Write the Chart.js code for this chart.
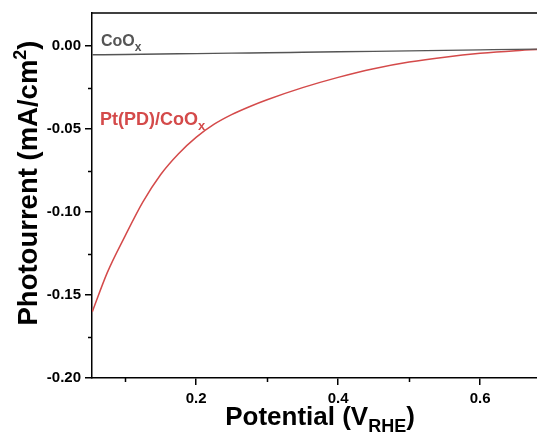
<!DOCTYPE html>
<html>
<head>
<meta charset="utf-8">
<script src="https://cdn.jsdelivr.net/npm/chart.js@4"></script>
<style>
  html, body { margin: 0; padding: 0; background: #fff; }
  #wrap { width: 537px; height: 437px; }
</style>
</head>
<body>
<div id="wrap"><canvas id="chart" width="537" height="437"></canvas></div>
<script>
// values
const redPotential = [0.054, 0.075, 0.100, 0.125, 0.150, 0.175, 0.200, 0.225, 0.250, 0.275,
  0.300, 0.350, 0.400, 0.450, 0.500, 0.550, 0.600, 0.650, 0.700];
const redCurrent = [-0.1600, -0.1365, -0.1145, -0.0940, -0.0775, -0.0650, -0.0550, -0.0472, -0.0413, -0.0365,
  -0.0323, -0.0250, -0.0188, -0.0136, -0.0096, -0.0066, -0.0043, -0.0027, -0.0016];

const grayPotential = [0.054, 0.100, 0.150, 0.200, 0.250, 0.300, 0.350, 0.400, 0.450, 0.500,
  0.550, 0.600, 0.650, 0.700];
const grayCurrent = [-0.0052, -0.0050, -0.0047, -0.0045, -0.0042, -0.0040, -0.0037, -0.0034,
  -0.0031, -0.0028, -0.0025, -0.0022, -0.0019, -0.0017];

const xMajorTicks = [0.2, 0.4, 0.6];
const xMinorTicks = [0.1, 0.3, 0.5];
const yMajorTicks = [0, -0.05, -0.10, -0.15, -0.20];
const yMinorTicks = [-0.025, -0.075, -0.125, -0.175];

const FONT = "'Liberation Sans', Arial, sans-serif";
const RED = "#d44a4a";
const GRAY = "#555555";

// draws a run of text pieces, each with its own size and baseline shift
function drawPieces(ctx, pieces, x, y, align) {
  let total = 0;
  pieces.forEach(p => {
    ctx.font = "bold " + p.size + "px " + FONT;
    p.w = ctx.measureText(p.text).width;
    total += p.w;
  });
  let cx = align === "center" ? x - total / 2 : x;
  pieces.forEach(p => {
    ctx.font = "bold " + p.size + "px " + FONT;
    ctx.fillText(p.text, cx, y + (p.dy || 0));
    cx += p.w;
  });
}

const decorations = {
  id: "decorations",
  afterDraw(chart) {
    const { ctx, chartArea, scales } = chart;
    ctx.save();
    ctx.strokeStyle = "#000";
    ctx.lineWidth = 1.5;

    // top frame line
    ctx.beginPath();
    ctx.moveTo(chartArea.left, chartArea.top);
    ctx.lineTo(chartArea.right, chartArea.top);
    ctx.stroke();

    // minor ticks
    ctx.beginPath();
    yMinorTicks.forEach(v => {
      const py = Math.round(scales.y.getPixelForValue(v)) + 0.5;
      ctx.moveTo(chartArea.left - 4, py);
      ctx.lineTo(chartArea.left, py);
    });
    xMinorTicks.forEach(v => {
      const px = Math.round(scales.x.getPixelForValue(v)) + 0.5;
      ctx.moveTo(px, chartArea.bottom);
      ctx.lineTo(px, chartArea.bottom + 4);
    });
    ctx.stroke();

    ctx.textBaseline = "alphabetic";
    ctx.fillStyle = "#000";

    // x axis title
    drawPieces(ctx, [
      { text: "Potential (V", size: 26 },
      { text: "RHE", size: 18, dy: 7 },
      { text: ")", size: 26 }
    ], 320, 425, "center");

    // y axis title
    ctx.save();
    ctx.translate(37, 183);
    ctx.rotate(-Math.PI / 2);
    drawPieces(ctx, [
      { text: "Photourrent (mA/cm", size: 27.5 },
      { text: "2", size: 18, dy: -11 },
      { text: ")", size: 27.5 }
    ], 0, 0, "center");
    ctx.restore();

    // series labels
    ctx.fillStyle = GRAY;
    drawPieces(ctx, [
      { text: "CoO", size: 16 },
      { text: "x", size: 12, dy: 5 }
    ], 101, 46, "left");
    ctx.fillStyle = RED;
    drawPieces(ctx, [
      { text: "Pt(PD)/CoO", size: 18 },
      { text: "x", size: 13, dy: 5 }
    ], 100, 125, "left");

    ctx.restore();
  }
};

new Chart(document.getElementById("chart"), {
  type: "line",
  data: {
    datasets: [
      {
        label: "CoOx",
        data: grayPotential.map((x, i) => ({ x: x, y: grayCurrent[i] })),
        borderColor: GRAY,
        borderWidth: 1.4,
        pointRadius: 0,
        cubicInterpolationMode: "monotone",
        fill: false
      },
      {
        label: "Pt(PD)/CoOx",
        data: redPotential.map((x, i) => ({ x: x, y: redCurrent[i] })),
        borderColor: RED,
        borderWidth: 1.5,
        pointRadius: 0,
        cubicInterpolationMode: "monotone",
        fill: false
      }
    ]
  },
  options: {
    responsive: false,
    animation: false,
    events: [],
    layout: { padding: { top: 12, right: 0, bottom: 0, left: 0 } },
    plugins: {
      legend: { display: false },
      tooltip: { enabled: false },
      title: { display: false }
    },
    scales: {
      x: {
        type: "linear",
        min: 0.0535,
        max: 0.68,
        afterFit: s => { s.height = 59; },
        afterBuildTicks: s => { s.ticks = xMajorTicks.map(v => ({ value: v })); },
        grid: { display: true, drawOnChartArea: false, drawTicks: true, tickLength: 7, color: "#000", lineWidth: 1.5 },
        border: { display: true, color: "#000", width: 1.5 },
        ticks: {
          color: "#000",
          padding: 5,
          maxRotation: 0,
          font: { family: FONT, size: 15, weight: "bold" },
          callback: v => v.toFixed(1)
        }
      },
      y: {
        type: "linear",
        min: -0.2,
        max: 0.02,
        afterFit: s => { s.width = 92; },
        afterBuildTicks: s => { s.ticks = yMajorTicks.map(v => ({ value: v })); },
        grid: { display: true, drawOnChartArea: false, drawTicks: true, tickLength: 7, color: "#000", lineWidth: 1.5 },
        border: { display: true, color: "#000", width: 1.5 },
        ticks: {
          color: "#000",
          padding: 4,
          font: { family: FONT, size: 15, weight: "bold" },
          callback: v => v.toFixed(2)
        }
      }
    }
  },
  plugins: [decorations]
});
</script>
</body>
</html>
